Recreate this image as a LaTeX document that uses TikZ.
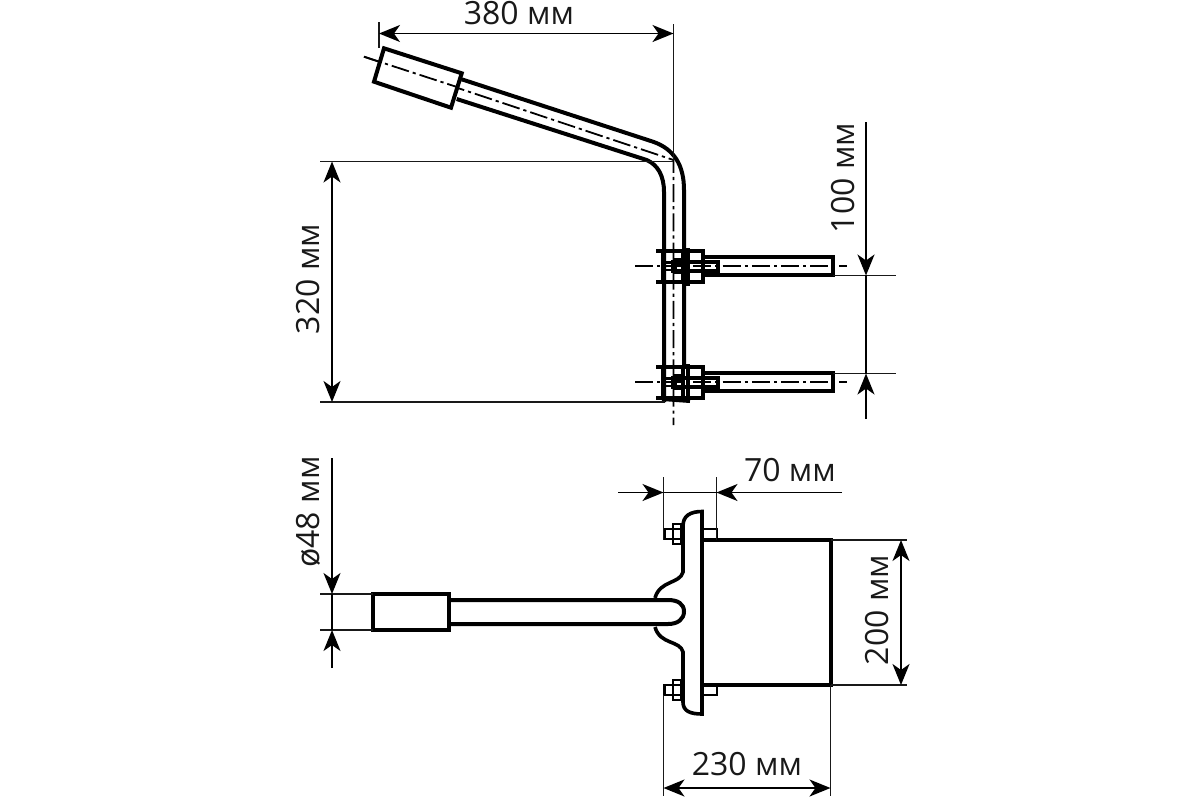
\documentclass[tikz,border=0pt]{standalone}
\usepackage{fontspec}
\setmainfont{Open Sans}
\usetikzlibrary{arrows.meta}
\tikzset{
  x=0.5pt,y=-0.5pt,
  body/.style={line width=2pt,black,line join=miter},
  thin part/.style={line width=1.4pt,black},
  ext/.style={line width=0.9pt,black!90},
  tipd/.tip={Stealth[length=10.5pt,width=8.5pt,inset=3pt]},
  dim/.style={line width=0.9pt,black,-tipd},
  dimboth/.style={line width=0.9pt,black,tipd-tipd},
  axisline/.style={line width=0.9pt,black,dash pattern=on 9pt off 2pt on 1.6pt off 2pt},
  lab/.style={font=\fontsize{16}{16}\selectfont,inner sep=0pt,text=black!90}
}
\begin{document}
\begin{tikzpicture}
\useasboundingbox (0,0) rectangle (1200,800);
% ---------- top view
\draw[axisline] (364,56.7) -- (673.5,160) -- (673.5,425);
\draw[body] (461.7,79.3) -- (653,141.7) .. controls (674,149) and (684,165) .. (684,190) -- (684,367);
\draw[body] (456.7,99) -- (646.7,160) .. controls (658,165) and (664,176) .. (664,192) -- (664,402);
\draw[body,fill=white] (384,48.3) -- (461.7,73.3) -- (451,107.7) -- (374,81.7) -- cycle;
\draw[axisline] (364,56.7) -- (457,87);
% upper and lower clamps
\foreach \d in {0,116}{
  \begin{scope}[yshift=-\d*0.5pt]
  \draw[body] (703,256.7) -- (833,256.7) -- (833,275.3) -- (703,275.3);
  \draw[body] (656,251.3) -- (688,251.3);
  \draw[body] (656,282) -- (688,282);
  \draw[body] (663,251.3) rectangle (702.7,282);
  \draw[line width=2.4pt] (688,248) -- (688,286);
  \draw[body] (683,251.3) -- (683,282);
  \fill[black] (673,258) rectangle (684,274);
  \draw[line width=1.7pt] (673,262) rectangle (718,271);
  \draw[thin part] (664,262.5) -- (702,262.5) (664,270) -- (702,270);
  \fill[white] (677,264.5) rectangle (681,268.5);
  \draw[axisline] (635,266.3) -- (847,266.3);
  \end{scope}
}
\draw[body] (662,399) -- (690,401);
\draw[ext] (379,22) -- (379,48);
\draw[ext] (673.5,24) -- (673.5,160);
\draw[ext] (320,161.5) -- (673,161.5);
\draw[ext] (320,402) -- (665,402);
\draw[ext] (833,275.5) -- (896,275.5);
\draw[ext] (833,373.5) -- (896,373.5);
\draw[dimboth] (379,33.5) -- (673.5,33.5);
\draw[dimboth] (332,161.5) -- (332,402);
\draw[dim] (866,122) -- (866,275.5);
\draw[dim] (866,419) -- (866,373.5);
\draw[line width=0.9pt] (866,275) -- (866,374);
\node[lab] (t380) at (519,13) {380 мм};
\node[lab,rotate=90] (t320) at (308,279) {320 мм};
\node[lab,rotate=90] (t100) at (843,178) {100 мм};
% ---------- bottom view
\draw[body] (703,540) -- (831,540) -- (831,685) -- (703,685);
\draw[body] (450,600) -- (668,600) .. controls (678,600) and (684,604) .. (684,611.5) .. controls (684,619) and (678,624) .. (668,624) -- (450,624);
\draw[body,fill=white] (373,594) rectangle (449,630);
\draw[body,line width=1.8pt] (655,598) .. controls (660,580) and (680,584) .. (683,572) -- (683,526)
  .. controls (683,516) and (690,511.5) .. (702,511.5) -- (702,714)
  .. controls (690,714) and (683,711) .. (683,702) -- (683,652)
  .. controls (680,640) and (660,645) .. (655,627);
\foreach \yy in {534,690}{
  \draw[thin part] (664.5,\yy-5) rectangle (683,\yy+5);
  \draw[thin part] (673,\yy-10) rectangle (681,\yy+10);
}
\draw[thin part] (703,529) rectangle (717,539);
\draw[thin part] (703,686) rectangle (717,695);
\draw[ext] (663.5,477) -- (663.5,540);
\draw[ext] (716.5,477) -- (716.5,540);
\draw[ext] (831,540) -- (907,540);
\draw[ext] (831,685) -- (907,685);
\draw[ext] (663.5,695) -- (663.5,796);
\draw[ext] (830.5,685) -- (830.5,796);
\draw[ext] (320,594) -- (373,594);
\draw[ext] (320,630) -- (373,630);
\draw[dim] (618,492.5) -- (663.5,492.5);
\draw[dim] (842,492.5) -- (716.5,492.5);
\draw[line width=0.9pt] (663.5,492.5) -- (716.5,492.5);
\draw[dimboth] (901,540) -- (901,685);
\draw[dimboth] (663.5,788) -- (830.5,788);
\draw[dim] (332,458) -- (332,594);
\draw[dim] (332,668) -- (332,630);
\draw[line width=0.9pt] (332,594) -- (332,630);
\node[lab] (t70) at (790,470) {70 мм};
\node[lab,rotate=90] (t200) at (877,610) {200 мм};
\node[lab] (t230) at (747,764) {230 мм};
\node[lab,rotate=90] (t48) at (308,512) {ø48 мм};
\end{tikzpicture}
\end{document}
